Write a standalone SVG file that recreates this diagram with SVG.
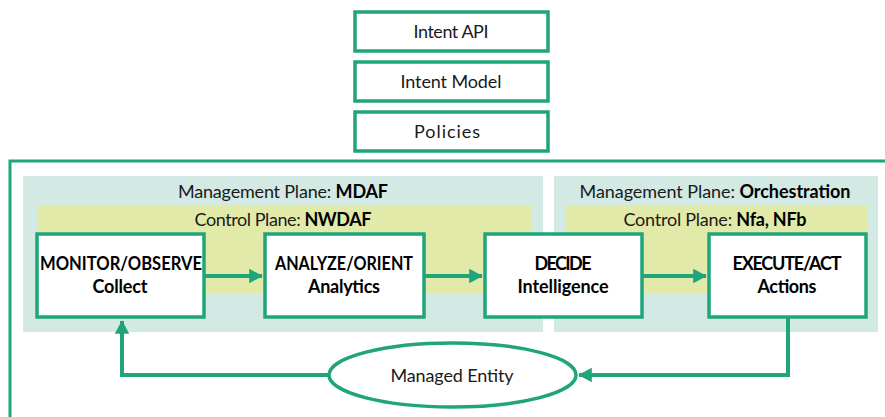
<svg xmlns="http://www.w3.org/2000/svg" width="885" height="417" viewBox="0 0 885 417">
<style>
.box{fill:#fff;stroke:#20a57b;stroke-width:3.5}
.frame{fill:none;stroke:#20a57b;stroke-width:3}
.mp{fill:#d3e9e4}
.cp{fill:#e2eaa9}
.t{font-family:Lato,"Open Sans",sans-serif;font-size:18px;fill:#1a1a1a;text-anchor:middle}
.b{font-weight:bold;fill:#000}
.tb{font-family:Lato,"Open Sans",sans-serif;font-size:18px;font-weight:bold;fill:#000;text-anchor:middle}
.c{fill:none;stroke:#20a57b;stroke-width:4}
</style>
<defs>
<marker id="ah" markerWidth="4" markerHeight="4" refX="3.2" refY="2" orient="auto" markerUnits="strokeWidth">
<path d="M0,0.2 L3.4,2 L0,3.8 Z" fill="#20a57b"/>
</marker>
</defs>
<rect width="885" height="417" fill="#fff"/>
<g id="intent-api"><rect class="box" x="355" y="12" width="193" height="39"/><text class="t" x="451" y="38" textLength="75">Intent API</text></g>
<g id="intent-model"><rect class="box" x="355" y="62" width="193" height="39"/><text class="t" x="451" y="88" textLength="101">Intent Model</text></g>
<g id="policies"><rect class="box" x="355" y="112" width="193" height="39"/><text class="t" x="447" y="138" textLength="66">Policies</text></g>
<g id="frame"><path class="frame" d="M887,161 H10 V420"/></g>
<g id="mgmt-mdaf"><rect class="mp" x="23" y="176" width="520" height="156"/><text class="t" x="283" y="198" textLength="210">Management Plane: <tspan class="b">MDAF</tspan></text></g>
<g id="mgmt-orch"><rect class="mp" x="554" y="176" width="324" height="156"/><text class="t" x="715" y="198" textLength="271">Management Plane: <tspan class="b">Orchestration</tspan></text></g>
<g id="ctrl-nwdaf"><rect class="cp" x="37" y="205" width="495" height="88"/><text class="t" x="283" y="226" textLength="177">Control Plane: <tspan class="b">NWDAF</tspan></text></g>
<g id="ctrl-nf"><rect class="cp" x="566" y="205" width="301" height="88"/><text class="t" x="715" y="226" textLength="183">Control Plane: <tspan class="b">Nfa, NFb</tspan></text></g>
<g id="connectors">
<path class="c" d="M204,276 H262" marker-end="url(#ah)"/>
<path class="c" d="M424,276 H482" marker-end="url(#ah)"/>
<path class="c" d="M642,276 H706" marker-end="url(#ah)"/>
<path class="c" d="M788,317 V375 H579" marker-end="url(#ah)"/>
<path class="c" d="M329,375 H122 V321" marker-end="url(#ah)"/>
</g>
<g id="monitor"><rect class="box" x="37" y="234" width="167" height="83"/><text class="tb" x="121" y="270" textLength="162" lengthAdjust="spacingAndGlyphs">MONITOR/OBSERVE</text><text class="tb" x="120" y="293" textLength="55">Collect</text></g>
<g id="analyze"><rect class="box" x="265" y="234" width="159" height="83"/><text class="tb" x="344" y="270" textLength="138" lengthAdjust="spacingAndGlyphs">ANALYZE/ORIENT</text><text class="tb" x="344" y="293" textLength="72">Analytics</text></g>
<g id="decide"><rect class="box" x="485" y="234" width="157" height="83"/><text class="tb" x="563" y="270" textLength="57">DECIDE</text><text class="tb" x="563" y="293" textLength="91">Intelligence</text></g>
<g id="execute"><rect class="box" x="709" y="234" width="157" height="83"/><text class="tb" x="787" y="270" textLength="109">EXECUTE/ACT</text><text class="tb" x="787" y="293" textLength="59">Actions</text></g>
<g id="managed-entity"><ellipse cx="452.5" cy="375" rx="123.5" ry="32" fill="#fff" stroke="#20a57b" stroke-width="3.5"/><text class="t" x="452" y="382" textLength="123">Managed Entity</text></g>
</svg>
